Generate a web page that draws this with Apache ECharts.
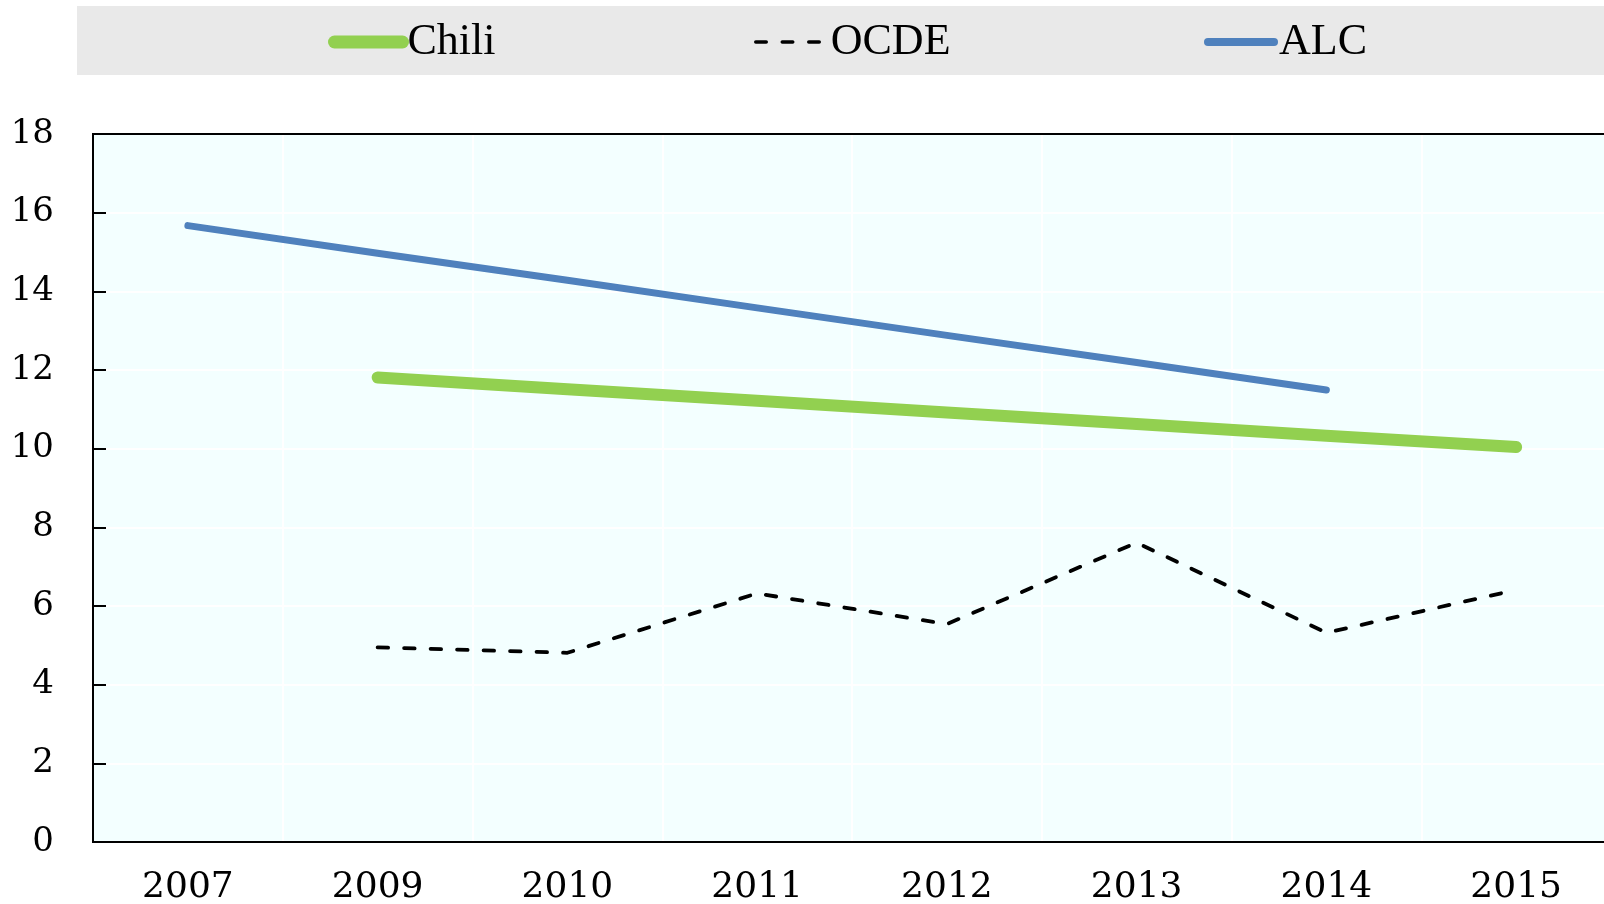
<!DOCTYPE html>
<html>
<head>
<meta charset="utf-8">
<script src="https://cdn.jsdelivr.net/npm/echarts@6/dist/echarts.min.js"></script>
<style>
html,body{margin:0;padding:0;background:#fff;}
#chart{width:1604px;height:904px;}
</style>
</head>
<body>
<div id="chart"></div>
<script>
const categories = ['2007', '2009', '2010', '2011', '2012', '2013', '2014', '2015'];
const chili = [null, 11.81, 11.51, 11.22, 10.92, 10.63, 10.33, 10.04];
const ocde = [null, 4.95, 4.81, 6.32, 5.54, 7.61, 5.32, 6.41];
const alc = [15.67, 14.97, 14.28, 13.58, 12.88, 12.19, 11.49, null];
const yTicks = [0, 2, 4, 6, 8, 10, 12, 14, 16, 18];

const chart = echarts.init(document.getElementById('chart'));
const legendFont = {fontFamily: 'Liberation Serif', fontSize: 44, color: '#000'};
chart.setOption({
  animation: false,
  graphic: [{
    type: 'rect', left: 77, top: 6, z: -10,
    shape: {width: 1540, height: 69},
    style: {fill: '#e9e9e9'}
  }],
  legend: [
    {data: ['Chili'], left: 328, top: 20, padding: 0, itemWidth: 68, itemHeight: 14, textStyle: legendFont,
     lineStyle: {width: 13, cap: 'round'}, itemStyle: {opacity: 0}},
    {data: ['OCDE'], left: 754, top: 20, padding: 0, itemWidth: 70, itemHeight: 14, textStyle: legendFont,
     lineStyle: {width: 3.5}, itemStyle: {opacity: 0}},
    {data: ['ALC'], left: 1204, top: 20, padding: 0, itemWidth: 66, itemHeight: 14, textStyle: legendFont,
     lineStyle: {width: 8, cap: 'round'}, itemStyle: {opacity: 0}}
  ],
  grid: {
    left: 93, top: 134, bottom: 62, right: -7,
    outerBoundsMode: 'none', containLabel: false,
    show: true, backgroundColor: '#f3ffff', borderColor: '#000', borderWidth: 2
  },
  xAxis: [{
    type: 'category', data: categories, boundaryGap: true,
    axisLine: {lineStyle: {color: '#000', width: 2}},
    axisTick: {inside: true, length: 13, lineStyle: {color: '#000', width: 2}},
    axisLabel: {fontFamily: 'DejaVu Serif', fontSize: 36, color: '#000', margin: 28},
    splitLine: {show: true, lineStyle: {color: '#ffffff', width: 2}}
  }, {
    type: 'category', data: categories, position: 'top', boundaryGap: true,
    axisLine: {show: true, lineStyle: {color: '#000', width: 2}},
    axisTick: {show: false}, axisLabel: {show: false}, splitLine: {show: false}
  }],
  yAxis: {
    type: 'value', min: 0, max: 18, interval: 2,
    axisLine: {show: true, lineStyle: {color: '#000', width: 2}},
    axisTick: {show: true, inside: true, length: 13, lineStyle: {color: '#000', width: 2}},
    axisLabel: {fontFamily: 'DejaVu Serif', fontSize: 34, color: '#000', margin: 39,
      formatter: v => yTicks.includes(v) ? String(v) : ''},
    splitLine: {show: true, lineStyle: {color: '#ffffff', width: 2}}
  },
  series: [
    {name: 'Chili', type: 'line', data: chili, symbol: 'none', z: 3,
     lineStyle: {color: '#92d050', width: 12, cap: 'round', join: 'round'},
     itemStyle: {color: '#92d050'}},
    {name: 'OCDE', type: 'line', data: ocde, symbol: 'none', z: 2,
     lineStyle: {color: '#000', width: 3.8, type: [10.5, 16], cap: 'round', join: 'round'},
     itemStyle: {color: '#000'}},
    {name: 'ALC', type: 'line', data: alc, symbol: 'none', z: 4,
     lineStyle: {color: '#4f81bd', width: 7, cap: 'round', join: 'round'},
     itemStyle: {color: '#4f81bd'}}
  ]
});
</script>
</body>
</html>
